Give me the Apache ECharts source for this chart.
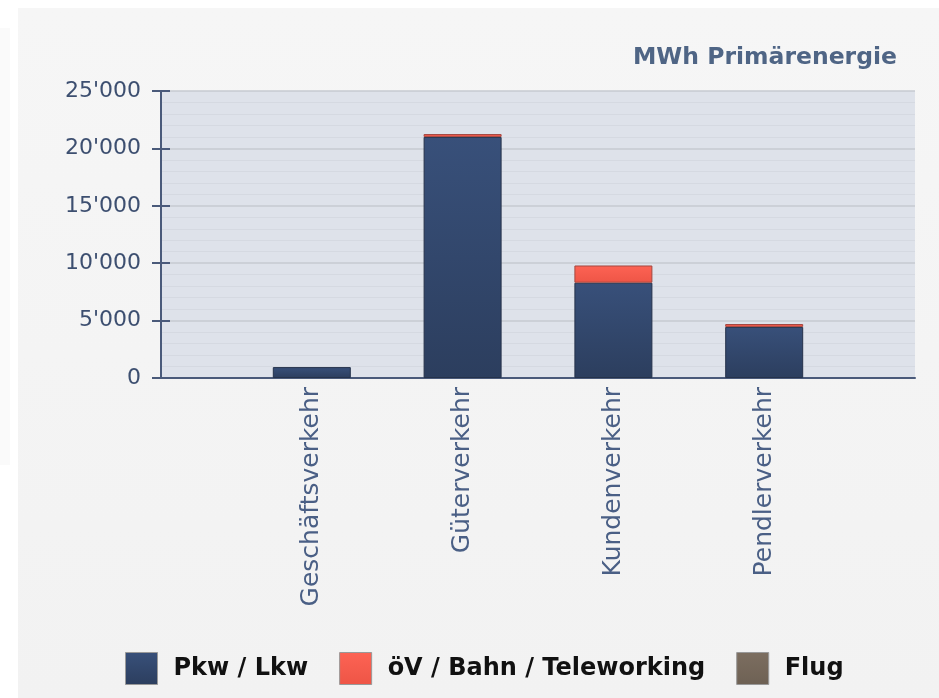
<!DOCTYPE html>
<html>
<head>
<meta charset="utf-8">
<script src="https://cdn.jsdelivr.net/npm/echarts@6/dist/echarts.min.js"></script>
<style>
  html, body { margin: 0; padding: 0; background: #ffffff; }
  #wrap { position: relative; width: 939px; height: 698px; overflow: hidden; background: #ffffff; }
  #side { position: absolute; left: 0; top: 28px; width: 10px; height: 437px; background: #fafafa; }
  #chart { position: absolute; left: 18px; top: 8px; width: 921px; height: 690px;
           background: linear-gradient(#f6f6f6, #f2f2f2); }
</style>
</head>
<body>
<div id="wrap"><div id="side"></div><div id="chart"></div></div>
<script>
// ---- data ----
const categories = ['Geschäftsverkehr', 'Güterverkehr', 'Kundenverkehr', 'Pendlerverkehr'];
const seriesNames = ['Pkw / Lkw', 'öV / Bahn / Teleworking', 'Flug'];
const pkwLkw = [950, 21000, 8300, 4450];
const oevBahn = [0, 250, 1500, 250];
const flug = [0, 0, 0, 0];
const yTicks = [0, 5000, 10000, 15000, 20000, 25000];
const unitTitle = 'MWh Primärenergie';

// pad with blank slots so the bars sit at the axis positions of the reference
const axisCats = [''].concat(categories).concat([' ']);
// zero values are not drawn (no empty border strokes)
const pad = arr => [null].concat(arr.map(v => (v === 0 ? null : v))).concat([null]);

const colors = ['#34496b', '#f95f50', '#7a6c5e'];
function barStyle(top, bottom, border) {
  return {
    color: new echarts.graphic.LinearGradient(0, 0, 0, 1, [
      { offset: 0, color: top }, { offset: 1, color: bottom }
    ]),
    borderColor: border, borderWidth: 1
  };
}

const chart = echarts.init(document.getElementById('chart'), null, { renderer: 'canvas' });
const fmt = v => {
  const s = String(Math.round(v));
  return s.replace(/\B(?=(\d{3})+(?!\d))/g, "'");
};
const yBase = {
  type: 'value', min: yTicks[0], max: yTicks[yTicks.length - 1], interval: yTicks[1] - yTicks[0]
};
chart.setOption({
  backgroundColor: 'transparent',
  animation: false,
  title: {
    text: unitTitle, right: 37, top: 33,
    textStyle: { fontFamily: 'DejaVu Sans', fontWeight: 'bold', fontSize: 23.5, color: '#4f6585' }
  },
  legend: {
    bottom: 8, left: 102,
    icon: 'rect', itemWidth: 32, itemHeight: 32, itemGap: 31,
    data: seriesNames,
    textStyle: { fontFamily: 'DejaVu Sans', fontWeight: 'bold', fontSize: 24, color: '#111111', padding: [0, 0, 0, 11] },
    itemStyle: { borderColor: '#999', borderWidth: 1 }
  },
  grid: { left: 143, top: 83, width: 754, height: 287, show: true, backgroundColor: '#dee2ea', borderWidth: 0 },
  xAxis: {
    type: 'category', data: axisCats, boundaryGap: false,
    axisLine: { lineStyle: { color: '#4a5a7a', width: 2 } },
    axisTick: { show: false },
    axisLabel: { rotate: 90, interval: 0, margin: 9, color: '#4a5f85', fontFamily: 'DejaVu Sans', fontSize: 25 },
    splitLine: { show: false }
  },
  yAxis: [
    Object.assign({}, yBase, {
      axisLine: { show: true, lineStyle: { color: '#4a5a7a', width: 2 } },
      axisTick: { show: true, length: 9, lineStyle: { color: '#4a5a7a', width: 2 } },
      axisLabel: { margin: 20, color: '#3d4f70', fontFamily: 'DejaVu Sans', fontSize: 22, formatter: fmt },
      splitLine: { show: true, lineStyle: { color: '#c6cad1', width: 1.5 } },
      minorTick: { show: false, splitNumber: 5 },
      minorSplitLine: { show: true, lineStyle: { color: '#d5d9e1', width: 1 } }
    }),
    Object.assign({}, yBase, {
      position: 'left',
      axisLine: { show: false },
      axisTick: { show: true, inside: true, length: 9, lineStyle: { color: '#4a5a7a', width: 2 } },
      axisLabel: { show: false },
      splitLine: { show: false }
    })
  ],
  series: [
    { name: seriesNames[0], type: 'bar', stack: 'total', barWidth: 78, data: pad(pkwLkw),
      itemStyle: barStyle('#38507a', '#2c3e5e', '#25324b'), color: colors[0] },
    { name: seriesNames[1], type: 'bar', stack: 'total', barWidth: 78, data: pad(oevBahn),
      itemStyle: barStyle('#fd6354', '#ee5546', '#a4473f'), color: colors[1] },
    { name: seriesNames[2], type: 'bar', stack: 'total', barWidth: 78, data: pad(flug),
      itemStyle: barStyle('#7c6e60', '#6e6154', '#4f463d'), color: colors[2] }
  ]
});
</script>
</body>
</html>
